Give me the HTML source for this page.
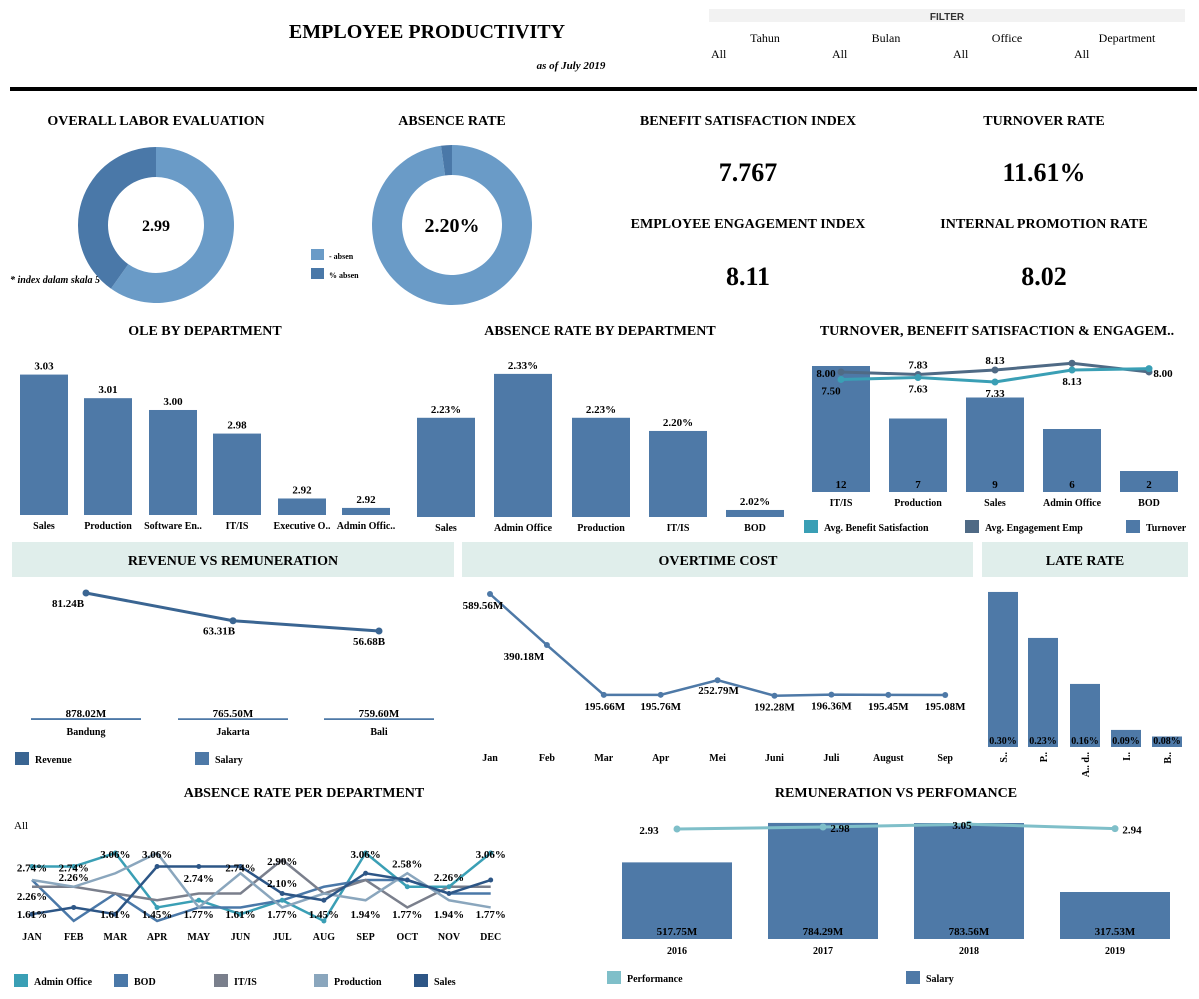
<!DOCTYPE html>
<html><head><meta charset="utf-8">
<style>
html,body{margin:0;padding:0;background:#fff;}
svg{display:block;font-family:"Liberation Serif",serif;font-weight:bold;}
.s{font-family:"Liberation Sans",sans-serif;}
</style></head>
<body>
<svg id="svg" width="1199" height="999" viewBox="0 0 1199 999" xmlns="http://www.w3.org/2000/svg">
<text x="427" y="38" font-size="20" text-anchor="middle">EMPLOYEE PRODUCTIVITY</text>
<text x="571" y="69" font-size="11" font-style="italic" text-anchor="middle">as of July 2019</text>
<rect x="709" y="9" width="476" height="13" fill="#f2f2f2"/>
<text class="s" x="947" y="20" font-size="10" text-anchor="middle" fill="#333">FILTER</text>
<g font-weight="normal" font-size="12">
<text x="765" y="42" text-anchor="middle">Tahun</text>
<text x="886" y="42" text-anchor="middle">Bulan</text>
<text x="1007" y="42" text-anchor="middle">Office</text>
<text x="1127" y="42" text-anchor="middle">Department</text>
<text x="711" y="58">All</text>
<text x="832" y="58">All</text>
<text x="953" y="58">All</text>
<text x="1074" y="58">All</text>
</g>
<rect x="10" y="87" width="1187" height="4" fill="#000"/>
<g font-size="14" text-anchor="middle">
<text x="156" y="125">OVERALL LABOR EVALUATION</text>
<text x="452" y="125">ABSENCE RATE</text>
<text x="748" y="125">BENEFIT SATISFACTION INDEX</text>
<text x="1044" y="125">TURNOVER RATE</text>
<text x="748" y="228">EMPLOYEE ENGAGEMENT INDEX</text>
<text x="1044" y="228">INTERNAL PROMOTION RATE</text>
<text x="205" y="335">OLE BY DEPARTMENT</text>
<text x="600" y="335">ABSENCE RATE BY DEPARTMENT</text>
<text x="997" y="335">TURNOVER, BENEFIT SATISFACTION &amp; ENGAGEM..</text>
<text x="304" y="797">ABSENCE RATE PER DEPARTMENT</text>
<text x="896" y="797">REMUNERATION VS PERFOMANCE</text>
</g>
<g font-size="26" text-anchor="middle">
<text x="748" y="181">7.767</text>
<text x="1044" y="181">11.61%</text>
<text x="748" y="285">8.11</text>
<text x="1044" y="285">8.02</text>
</g>
<text x="10" y="283" font-size="10" font-style="italic">* index dalam skala 5</text>
<rect x="311" y="249" width="13" height="11" fill="#6a9bc7"/>
<text x="329" y="259" font-size="8">- absen</text>
<rect x="311" y="268" width="13" height="11" fill="#4a78a8"/>
<text x="329" y="278" font-size="8">% absen</text>
<g font-size="14" text-anchor="middle">
<rect x="12" y="542" width="442" height="35" fill="#e0eeeb"/>
<text x="233" y="565">REVENUE VS REMUNERATION</text>
<rect x="462" y="542" width="511" height="35" fill="#e0eeeb"/>
<text x="718" y="565">OVERTIME COST</text>
<rect x="982" y="542" width="206" height="35" fill="#e0eeeb"/>
<text x="1085" y="565">LATE RATE</text>
</g>
<text x="14" y="829" font-size="11" font-weight="normal">All</text>
</svg>
<script>
// ===== data =====
const oleValue = 2.99, oleMax = 5;
const absenceRate = 2.20;
const oleDepts = ["Sales","Production","Software En..","IT/IS","Executive O..","Admin Offic.."];
const oleVals = [3.03,3.01,3.00,2.98,2.925,2.917];
const absDepts = ["Sales","Admin Office","Production","IT/IS","BOD"];
const absVals = [2.23,2.33,2.23,2.20,2.02];
const toDepts = ["IT/IS","Production","Sales","Admin Office","BOD"];
const toTurnover = [12,7,9,6,2];
const toBenefit = [7.50,7.63,7.33,8.13,8.22];
const toEngage = [8.00,7.83,8.13,8.58,8.00];
const revCities = ["Bandung","Jakarta","Bali"];
const revRevenue = [81.24,63.31,56.68];
const revSalary = [878.02,765.50,759.60];
const otMonths = ["Jan","Feb","Mar","Apr","Mei","Juni","Juli","August","Sep"];
const otVals = [589.56,390.18,195.66,195.76,252.79,192.28,196.36,195.45,195.08];
const lateCats = ["S..","P..","A.. d..","I..","B.."];
const lateVals = [0.30,0.23,0.16,0.09,0.08];
const months = ["JAN","FEB","MAR","APR","MAY","JUN","JUL","AUG","SEP","OCT","NOV","DEC"];
const serAdmin = [2.74,2.74,3.06,1.77,1.94,1.61,1.94,1.45,3.06,2.26,2.26,3.06];
const serBOD = [2.42,1.45,2.10,1.45,1.77,1.77,1.94,2.26,2.42,2.42,2.10,2.10];
const serIT = [2.26,2.26,2.10,1.94,2.10,2.10,2.90,2.10,2.42,1.77,2.26,2.26];
const serProd = [2.42,2.26,2.58,3.06,1.77,2.58,1.77,2.10,1.94,2.58,1.94,1.77];
const serSales = [1.61,1.77,1.61,2.74,2.74,2.74,2.10,1.94,2.58,2.42,2.10,2.42];
const years = ["2016","2017","2018","2019"];
const remSalary = [517.75,784.29,783.56,317.53];
const remPerf = [2.93,2.98,3.05,2.94];

const NS="http://www.w3.org/2000/svg";
const svg=document.getElementById('svg');
function mk(tag,attrs){const e=document.createElementNS(NS,tag);for(const k in attrs)e.setAttribute(k,attrs[k]);svg.appendChild(e);return e;}
function txt(x,y,s,size,anchor){const t=mk('text',{x:x,y:y,'font-size':size,'text-anchor':anchor||'middle'});t.textContent=s;return t;}
const BAR="#4e79a7";

// ===== donuts =====
function arc(cx,cy,R,r,a0,a1){
  const p=(a,rad)=>[cx+rad*Math.sin(a),cy-rad*Math.cos(a)];
  const large=(a1-a0)>Math.PI?1:0;
  const [x0,y0]=p(a0,R),[x1,y1]=p(a1,R),[x2,y2]=p(a1,r),[x3,y3]=p(a0,r);
  return `M${x0},${y0}A${R},${R} 0 ${large} 1 ${x1},${y1}L${x2},${y2}A${r},${r} 0 ${large} 0 ${x3},${y3}Z`;
}
{
  const f=oleValue/oleMax;
  const a=mk('path',{d:arc(156,225,78,48,0,f*2*Math.PI),fill:"#6a9bc7"});
  
  
  const b=mk('path',{d:arc(156,225,78,48,f*2*Math.PI,2*Math.PI-0.0001),fill:"#4a78a8"});
  
  
  const t=txt(156,231,oleValue.toFixed(2),16);
  
  
  const g=absenceRate/100;
  const c=mk('path',{d:arc(452,225,80,50,0,(1-g)*2*Math.PI),fill:"#6a9bc7"});
  
  
  const d=mk('path',{d:arc(452,225,80,50,(1-g)*2*Math.PI,2*Math.PI-0.0001),fill:"#4a78a8"});
  
  
  const t2=txt(452,232,absenceRate.toFixed(2)+"%",20);
  
  
}

// ===== OLE by department =====
{
  const xs=[20,84,149,213,278,342], w=48, base=515;
  const y=v=>base-(v-2.911)*1180;
  oleDepts.forEach((d,i)=>{
    const r=mk('rect',{x:xs[i],y:y(oleVals[i]),width:w,height:base-y(oleVals[i]),fill:BAR});
    
    
    const l=txt(xs[i]+w/2,y(oleVals[i])-5,oleVals[i].toFixed(2),11);
    
    
    const c=txt(xs[i]+w/2,529,d,10);
    
    
  });
}
// ===== absence by department =====
{
  const xs=[417,494,572,649,726], w=58, base=517;
  const y=v=>base-(v-2.004)*439;
  absDepts.forEach((d,i)=>{
    const r=mk('rect',{x:xs[i],y:y(absVals[i]),width:w,height:base-y(absVals[i]),fill:BAR});
    
    
    const l=txt(xs[i]+w/2,y(absVals[i])-5,absVals[i].toFixed(2)+"%",11);
    
    
    const c=txt(xs[i]+w/2,531,d,10);
    
    
  });
}
// ===== turnover combo =====
{
  const xs=[812,889,966,1043,1120], w=58, base=492;
  const y=v=>base-v*10.5;
  const ly=v=>370-(v-8.13)*15;
  toDepts.forEach((d,i)=>{
    const r=mk('rect',{x:xs[i],y:y(toTurnover[i]),width:w,height:base-y(toTurnover[i]),fill:BAR});
    
    
    const l=txt(xs[i]+w/2,488,String(toTurnover[i]),11);
    
    
    const c=txt(xs[i]+w/2,506,d,10);
    
    
  });
  const cx=i=>xs[i]+w/2;
  const pe=mk('polyline',{points:toEngage.map((v,i)=>cx(i)+","+ly(v)).join(" "),fill:"none",stroke:"#4f6a85","stroke-width":3});
  
  
  const pb=mk('polyline',{points:toBenefit.map((v,i)=>cx(i)+","+ly(v)).join(" "),fill:"none",stroke:"#3a9fb5","stroke-width":3});
  
  
  toEngage.forEach((v,i)=>{
    const c=mk('circle',{cx:cx(i),cy:ly(v),r:3.5,fill:"#4f6a85"});
    
    
    if(i===3)return;
    const l= i===0?txt(cx(i)-15,ly(v)+5,v.toFixed(2),11): i===4?txt(cx(i)+14,ly(v)+5,v.toFixed(2),11):txt(cx(i),ly(v)-6,v.toFixed(2),11);
    
    
  });
  toBenefit.forEach((v,i)=>{
    const c=mk('circle',{cx:cx(i),cy:ly(v),r:3.5,fill:"#3a9fb5"});
    
    
    if(i===4)return;
    const l=txt(cx(i)-(i===0?10:0),ly(v)+15,v.toFixed(2),11);
    
    
  });
  const leg=[["#3a9fb5","Avg. Benefit Satisfaction",804],["#4f6a85","Avg. Engagement Emp",965],[BAR,"Turnover",1126]];
  leg.forEach(L=>{
    const s=mk('rect',{x:L[2],y:520,width:14,height:13,fill:L[0]});
    
    
    const t=txt(L[2]+20,531,L[1],10,'start');
    
    
  });
}
// ===== revenue vs remuneration =====
{
  const xs=[86,233,379];
  const y=v=>593+(81.24-v)*1.547;
  const sy=v=>719-v*0.001;
  const pl=mk('polyline',{points:revRevenue.map((v,i)=>xs[i]+","+y(v)).join(" "),fill:"none",stroke:"#3a6592","stroke-width":3});
  
  
  revCities.forEach((c,i)=>{
    const p=mk('circle',{cx:xs[i],cy:y(revRevenue[i]),r:3.5,fill:"#3a6592"});
    
    
    const l=txt(xs[i]-18+(i*4),y(revRevenue[i])+14,revRevenue[i].toFixed(2)+"B",11);
    
    
    const b=mk('rect',{x:xs[i]-55,y:sy(revSalary[i]),width:110,height:Math.max(1.2,719-sy(revSalary[i])+1),fill:"#4e79a7"});
    
    
    const sl=txt(xs[i],717,revSalary[i].toFixed(2)+"M",11);
    
    
    const cl=txt(xs[i],735,c,10);
    
    
  });
  const s1=mk('rect',{x:15,y:752,width:14,height:13,fill:"#3a6592"});
  
  
  const t1=txt(35,763,"Revenue",10,'start');
  
  
  const s2=mk('rect',{x:195,y:752,width:14,height:13,fill:"#4e79a7"});
  
  
  const t2=txt(215,763,"Salary",10,'start');
  
  
}
// ===== overtime =====
{
  const x=i=>490+i*56.9;
  const y=v=>594+(589.56-v)*0.256;
  const pl=mk('polyline',{points:otVals.map((v,i)=>x(i)+","+y(v)).join(" "),fill:"none",stroke:"#4e79a7","stroke-width":2.5});
  
  
  otMonths.forEach((m,i)=>{
    const p=mk('circle',{cx:x(i),cy:y(otVals[i]),r:3,fill:"#4e79a7"});
    
    
    const dx=i===0?-7:(i===1?-23:(i===2?1:(i===4?1:0)));
    const l=txt(x(i)+dx,y(otVals[i])+(i===4?14:15),otVals[i].toFixed(2)+"M",11);
    
    
    const c=txt(x(i),761,m,10);
    
    
  });
}
// ===== late rate =====
{
  const xs=[988,1028,1070,1111,1152], w=30, base=747;
  const y=v=>base-(v-0.064)*657;
  lateCats.forEach((c,i)=>{
    const r=mk('rect',{x:xs[i],y:y(lateVals[i]),width:w,height:base-y(lateVals[i]),fill:BAR});
    
    
    const l=txt(xs[i]+w/2,744,lateVals[i].toFixed(2)+"%",10);
    
    
    const t=txt(0,0,c,10,'end');
    t.setAttribute('transform',`translate(${xs[i]+w/2+4},752) rotate(-90)`);
    
    
  });
}
// ===== absence per department per month =====
{
  const x=i=>32+i*41.7;
  const y=v=>853+(3.06-v)*42.2;
  const series=[["Admin Office",serAdmin,"#3a9fb5"],["BOD",serBOD,"#4a78a8"],["IT/IS",serIT,"#7a7f8c"],["Production",serProd,"#8aa6bd"],["Sales",serSales,"#2d5686"]];
  series.forEach((s,k)=>{
    const pl=mk('polyline',{points:s[1].map((v,i)=>x(i)+","+y(v)).join(" "),fill:"none",stroke:s[2],"stroke-width":2.5});
    
    
    const sw=mk('rect',{x:14+k*100,y:974,width:14,height:13,fill:s[2]});
    
    
    const t=txt(34+k*100,985,s[0],10,'start');
    
    
  });
  // visible point markers on a few series
  [[serAdmin,"#3a9fb5"],[serSales,"#2d5686"]].forEach(s=>{
    s[0].forEach((v,i)=>{
      const p=mk('circle',{cx:x(i),cy:y(v),r:2.5,fill:s[1]});
      
      
    });
  });
  const lblMonth=[0,1,2,3,5,6,8,9,11,1,4,6,10,0,2,3,4,5,6,7,8,9,10,11];
  const lblVal=[2.74,2.74,3.06,3.06,2.74,2.90,3.06,2.58,3.06,2.26,2.74,2.10,2.26,1.61,1.61,1.45,1.77,1.61,1.77,1.45,1.94,1.77,1.94,1.77];
  lblMonth.forEach((m,j)=>{
    const v=lblVal[j];
    let ly=y(v)+(v>=2.7?5:(v<2?5:-6));
    if(j>=13) ly=918;
    if(j===10) ly=882; if(j===11) ly=887; if(j===9) ly=881; if(j===12) ly=881;
    const l=txt(x(m),ly,v.toFixed(2)+"%",11);
    
    
  });
  const l0=txt(x(0),900,"2.26%",11);
  
  
  months.forEach((m,i)=>{
    const c=txt(x(i),940,m,10);
    
    
  });
}
// ===== remuneration vs performance =====
{
  const xs=[622,768,914,1060], w=110, base=939;
  const y=v=>base-v*0.148;
  const py=v=>829-(v-2.93)*40;
  years.forEach((yr,i)=>{
    const r=mk('rect',{x:xs[i],y:y(remSalary[i]),width:w,height:base-y(remSalary[i]),fill:BAR});
    
    
    const l=txt(xs[i]+w/2,935,remSalary[i].toFixed(2)+"M",11);
    
    
    const c=txt(xs[i]+w/2,954,yr,10);
    
    
  });
  const pl=mk('polyline',{points:remPerf.map((v,i)=>(xs[i]+w/2)+","+py(v)).join(" "),fill:"none",stroke:"#7fbfc9","stroke-width":3});
  
  
  remPerf.forEach((v,i)=>{
    const p=mk('circle',{cx:xs[i]+w/2,cy:py(v),r:3.5,fill:"#7fbfc9"});
    
    
    const l=txt(i===0?xs[i]+w/2-28:xs[i]+w/2+(i===2?-7:17),py(v)+5,v.toFixed(2),11);
    
    
  });
  const s1=mk('rect',{x:607,y:971,width:14,height:13,fill:"#7fbfc9"});
  
  
  const t1=txt(627,982,"Performance",10,'start');
  
  
  const s2=mk('rect',{x:906,y:971,width:14,height:13,fill:BAR});
  
  
  const t2=txt(926,982,"Salary",10,'start');
  
  
}
</script>
</body></html>
